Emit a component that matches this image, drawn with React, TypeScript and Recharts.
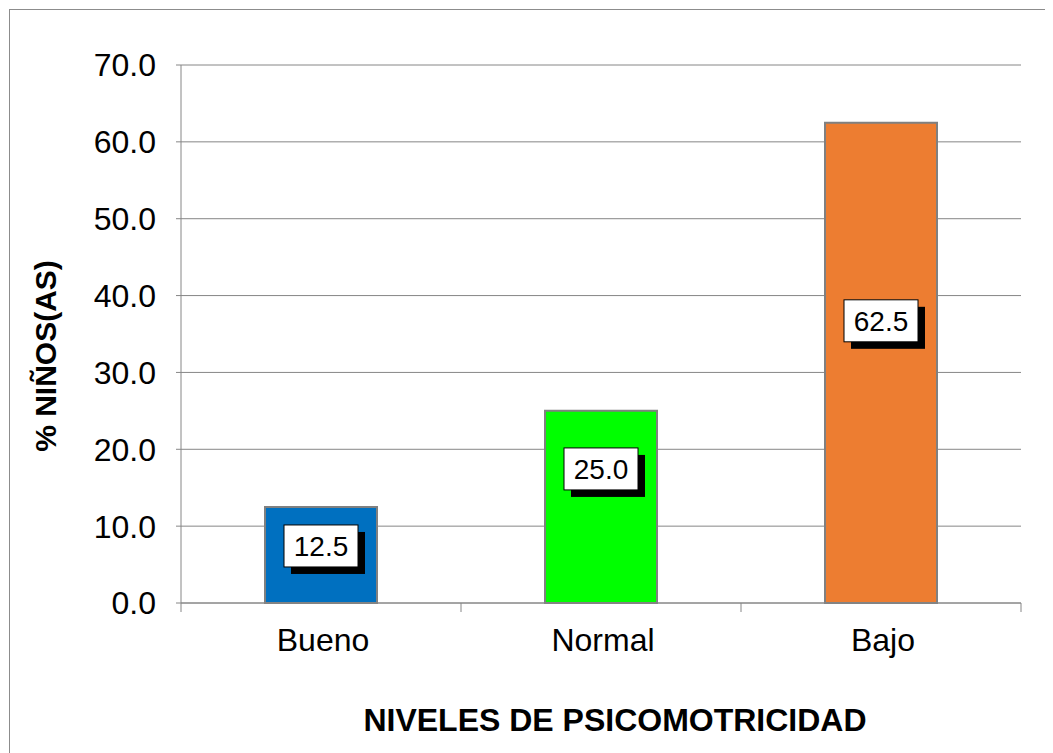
import React from 'react';
import { BarChart, Bar, XAxis, YAxis, CartesianGrid, Cell, LabelList } from 'recharts';

const categories = ['Bueno', 'Normal', 'Bajo'];
const percentages = [12.5, 25.0, 62.5];
const barColors = ['#0070C0', '#00FF00', '#ED7D31'];
const yTicks = [0, 10, 20, 30, 40, 50, 60, 70];
const labelLift = [9, 38, 42];

const data = categories.map((c, i) => ({ name: c, value: percentages[i] }));

const FONT = '"Liberation Sans", Arial, sans-serif';
const AXIS_GRAY = '#868686';

const ValueLabel = (props: any) => {
  const { x, y, width, height, value, index } = props;
  const bw = 74;
  const bh = 42;
  const cx = x + width / 2;
  const cy = y + height / 2 - (labelLift[index] || 0);
  return (
    <g>
      <rect x={cx - bw / 2 + 7} y={cy - bh / 2 + 7} width={bw} height={bh} fill="#000" />
      <rect x={cx - bw / 2} y={cy - bh / 2} width={bw} height={bh} fill="#fff" stroke="#000" strokeWidth={1} />
      <text x={cx} y={cy} dy="0.36em" textAnchor="middle" fontFamily={FONT} fontSize={28} fill="#000">
        {Number(value).toFixed(1)}
      </text>
    </g>
  );
};

const CategoryTick = (props: any) => {
  const { x, y, payload, index, visibleTicksCount, width } = props;
  const band = width / (visibleTicksCount || 1);
  const left = x - band / 2;
  const right = x + band / 2;
  return (
    <g>
      <line x1={left} x2={left} y1={y - 25} y2={y - 25 + 9} stroke={AXIS_GRAY} strokeWidth={1} />
      {index === visibleTicksCount - 1 && (
        <line x1={right} x2={right} y1={y - 25} y2={y - 25 + 9} stroke={AXIS_GRAY} strokeWidth={1} />
      )}
      <text x={x + 2} y={y} dy="0.71em" textAnchor="middle" fontFamily={FONT} fontSize={32} fill="#000">
        {payload.value}
      </text>
    </g>
  );
};

export default function App() {
  return (
    <div style={{ position: 'relative', width: 1045, height: 745, fontFamily: FONT }}>
      <style>{'html,body{overflow:hidden}'}</style>
      <div
        style={{
          position: 'absolute',
          left: 1,
          top: 1,
          width: 1200,
          height: 900,
          border: '1px solid #8c8c8c',
          boxSizing: 'border-box',
        }}
      />
      <div style={{ position: 'absolute', left: 0, top: 0 }}>
        <BarChart
          width={1045}
          height={745}
          data={data}
          margin={{ top: 57, right: 32, left: 73, bottom: 90 }}
          barCategoryGap="30%"
        >
          <CartesianGrid vertical={false} stroke={AXIS_GRAY} strokeWidth={1} />
          <XAxis
            dataKey="name"
            height={60}
            tickLine={false}
            tickSize={0}
            tickMargin={25}
            interval={0}
            axisLine={{ stroke: AXIS_GRAY }}
            tick={<CategoryTick />}
            label={{
              content: () => (
                <text
                  x={607}
                  y={723}
                  textAnchor="middle"
                  fontFamily={FONT}
                  fontSize={32}
                  fontWeight="bold"
                  fill="#000"
                >
                  NIVELES DE PSICOMOTRICIDAD
                </text>
              ),
            }}
          />
          <YAxis
            domain={[0, 70]}
            ticks={yTicks}
            interval={0}
            width={100}
            tickFormatter={(v: number) => v.toFixed(1)}
            tickSize={5}
            tickMargin={20}
            axisLine={{ stroke: AXIS_GRAY }}
            tickLine={{ stroke: AXIS_GRAY }}
            tick={{ fill: '#000', fontSize: 32, fontFamily: FONT }}
            label={{
              content: () => (
                <text
                  x={37}
                  y={348}
                  transform="rotate(-90 37 348)"
                  textAnchor="middle"
                  dominantBaseline="central"
                  fontFamily={FONT}
                  fontSize={30}
                  fontWeight="bold"
                  fill="#000"
                >
                  % NIÑOS(AS)
                </text>
              ),
            }}
          />
          <Bar dataKey="value" isAnimationActive={false} stroke="#808080" strokeWidth={2}>
            {data.map((d, i) => (
              <Cell key={d.name} fill={barColors[i]} />
            ))}
            <LabelList dataKey="value" content={ValueLabel} />
          </Bar>
        </BarChart>
      </div>
    </div>
  );
}
